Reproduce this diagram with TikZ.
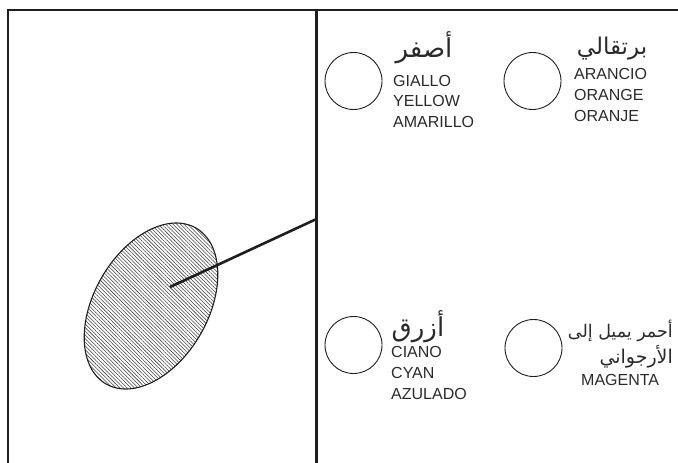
\documentclass[tikz,border=0pt]{standalone}
\usepackage{fontspec}
\setmainfont{Liberation Sans}
\newfontfamily\arabicfont[Script=Arabic]{DejaVu Sans}
\TeXXeTstate=1
\usetikzlibrary{patterns.meta}
\definecolor{ink}{HTML}{1E1E1E}
\definecolor{txt}{HTML}{2A2A2A}
\tikzset{
  frame/.style={draw=ink, line width=2pt},
  circ/.style={circle, draw=ink, line width=0.9pt, minimum size=57pt, inner sep=0pt},
  lat/.style={anchor=base west, inner sep=0pt, text=txt, font=\fontsize{16}{18}\selectfont},
  arb/.style={inner sep=0pt, text=txt},
}
\begin{document}
\begin{tikzpicture}[x=1pt,y=-1pt]
\useasboundingbox (0,0) rectangle (678,463);
% frame
\coordinate (tl) at (8,10);
\coordinate (bl) at (8,463);
\coordinate (tr) at (678,10);
\coordinate (tm) at (316.5,10);
\coordinate (bm) at (316.5,463);
\draw[frame] (bl) -- (tl) -- (tr);
\draw[frame, line width=2.4pt] (tm) -- (bm);
% ellipse
\coordinate (ec) at (151,306);
\path[rotate around={60:(ec)}, pattern={Lines[angle=-45,distance=2.6pt,line width=0.55pt]}, pattern color=black!75]
  (ec) ellipse [x radius=90pt, y radius=57pt];
\draw[ink, line width=1.1pt, rotate around={60:(ec)}] (ec) ellipse [x radius=90pt, y radius=57pt];
\coordinate (p) at (170,287);
\coordinate (q) at (316.5,219);
\draw[ink, line width=2.6pt] (p) -- (q);
% circles
\node[circ] (c1) at (353.5,81) {};
\node[circ] (c2) at (532.5,81) {};
\node[circ] (c3) at (353.5,345) {};
\node[circ] (c4) at (533.5,348) {};
% top left
\node[arb, anchor=base, font=\arabicfont\fontsize{26}{28}\selectfont] (a1) at (424,57) {\beginR أصفر\endR};
\node[lat] (t1a) at (393,86) {GIALLO};
\node[lat] (t1b) at (393,106) {YELLOW};
\node[lat] (t1c) at (393,127) {AMARILLO};
% top right
\node[arb, anchor=base, font=\arabicfont\fontsize{23}{26}\selectfont] (a2) at (612,54) {\beginR برتقالي\endR};
\node[lat] (t2a) at (574,79) {ARANCIO};
\node[lat] (t2b) at (574,100.5) {ORANGE};
\node[lat] (t2c) at (574,121) {ORANJE};
% bottom left
\node[arb, anchor=base, font=\arabicfont\fontsize{26}{28}\selectfont] (a3) at (418,336) {\beginR أزرق\endR};
\node[lat] (t3a) at (391,357) {CIANO};
\node[lat] (t3b) at (391,378) {CYAN};
\node[lat] (t3c) at (391,399) {AZULADO};
% bottom right
\node[arb, anchor=base east, font=\arabicfont\fontsize{17.5}{20}\selectfont] (a4a) at (673,337) {\beginR أحمر يميل إلى\endR};
\node[arb, anchor=base east, font=\arabicfont\fontsize{19}{22}\selectfont] (a4b) at (673,363) {\beginR الأرجواني\endR};
\node[lat] (t4a) at (581,385) {MAGENTA};
\end{tikzpicture}
\end{document}
